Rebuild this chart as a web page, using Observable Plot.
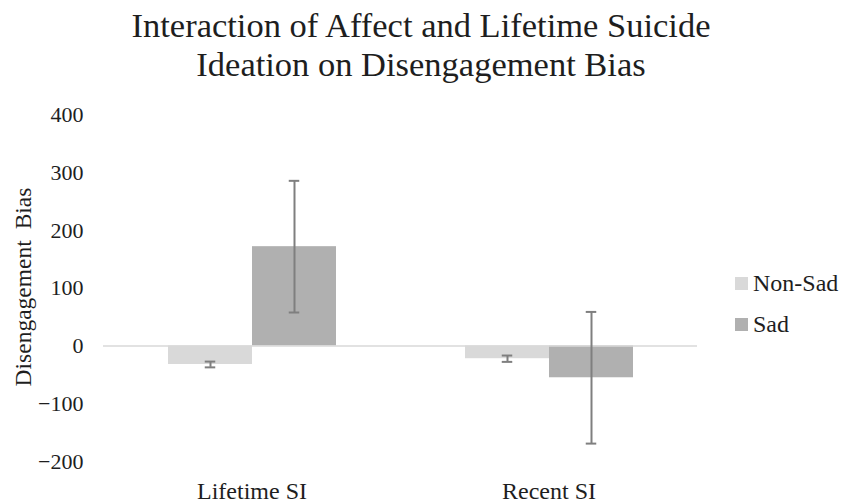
<!DOCTYPE html>
<html>
<head>
<meta charset="utf-8">
<script src="https://cdn.jsdelivr.net/npm/d3@7"></script>
<script src="https://cdn.jsdelivr.net/npm/@observablehq/plot@0.6"></script>
<style>
  body { margin: 0; background: #ffffff; }
  #wrap { position: relative; width: 846px; height: 504px; font-family: "Liberation Serif", "Times New Roman", serif; color: #1e1e1e; overflow: hidden; }
  #title { position: absolute; left: -2px; top: 6px; width: 846px; text-align: center; font-size: 34.5px; line-height: 39px; white-space: nowrap; }
  #ylabel { position: absolute; left: 24px; top: 286.5px; transform: translate(-50%, -50%) rotate(-90deg); font-size: 23.5px; white-space: nowrap; line-height: 1; word-spacing: 5px; }
  #legend { position: absolute; left: 735px; top: 263px; font-size: 24px; }
  .item { display: flex; align-items: center; height: 41px; }
  .sw { width: 13px; height: 13px; margin-right: 5px; }
  #chart { position: absolute; left: 0; top: 0; }
</style>
</head>
<body>
<div id="wrap">
  <div id="chart"></div>
  <div id="title"></div>
  <div id="ylabel"></div>
  <div id="legend"></div>
</div>
<script>
const titleLines = ["Interaction of Affect and Lifetime Suicide", "Ideation on Disengagement Bias"];
const yLabel = "Disengagement Bias";
const categories = ["Lifetime SI", "Recent SI"];
const series = ["Non-Sad", "Sad"];
const seriesColors = ["#d9d9d9", "#b0b0b0"];
const nonSadMeans = [-32, -22];
const sadMeans = [172, -55];
const nonSadErr = [5, 5.5];
const sadErr = [114, 114];
const yTicks = [-200, -100, 0, 100, 200, 300, 400];

const rows = [];
categories.forEach((c, i) => {
  rows.push({category: c, series: series[0], value: nonSadMeans[i], lo: nonSadMeans[i] - nonSadErr[i], hi: nonSadMeans[i] + nonSadErr[i]});
  rows.push({category: c, series: series[1], value: sadMeans[i], lo: sadMeans[i] - sadErr[i], hi: sadMeans[i] + sadErr[i]});
});

const font = "'Liberation Serif', 'Times New Roman', serif";
const errColor = "#7f7f7f";
const capInset = 36.75;

const chart = Plot.plot({
  width: 846,
  height: 504,
  marginTop: 114.5,
  marginBottom: 43,
  marginLeft: 103,
  marginRight: 149,
  style: { fontFamily: font, color: "#1e1e1e", background: "transparent" },
  fx: { domain: categories, padding: 0, label: null },
  x: { domain: series, paddingInner: 0, paddingOuter: 0.757, axis: null },
  y: { domain: [-200, 400], label: null },
  color: { domain: series, range: seriesColors },
  marks: [
    Plot.barY(rows, { fx: "category", x: "series", y: "value", fill: "series", inset: 0 }),
    Plot.ruleY([0], { stroke: "#d9d9d9", strokeWidth: 1.5 }),
    Plot.ruleX(rows, { fx: "category", x: "series", y1: "lo", y2: "hi", stroke: errColor, strokeWidth: 2 }),
    Plot.tickY(rows, { fx: "category", x: "series", y: "lo", insetLeft: capInset, insetRight: capInset, stroke: errColor, strokeWidth: 2 }),
    Plot.tickY(rows, { fx: "category", x: "series", y: "hi", insetLeft: capInset, insetRight: capInset, stroke: errColor, strokeWidth: 2 }),
    Plot.axisY({ ticks: yTicks, tickSize: 0, tickPadding: 20, fontSize: 22, label: null, fill: "#1e1e1e" }),
    Plot.axisFx({ anchor: "bottom", tickSize: 0, tickPadding: 20, fontSize: 24, label: null, fill: "#1e1e1e" })
  ]
});
document.getElementById("chart").appendChild(chart);

document.getElementById("title").innerHTML = titleLines.join("<br>");
document.getElementById("ylabel").textContent = yLabel;
const legend = document.getElementById("legend");
series.forEach((s, i) => {
  const item = document.createElement("div");
  item.className = "item";
  const sw = document.createElement("div");
  sw.className = "sw";
  sw.style.background = seriesColors[i];
  const t = document.createElement("span");
  t.textContent = s;
  item.appendChild(sw);
  item.appendChild(t);
  legend.appendChild(item);
});
</script>
</body>
</html>
